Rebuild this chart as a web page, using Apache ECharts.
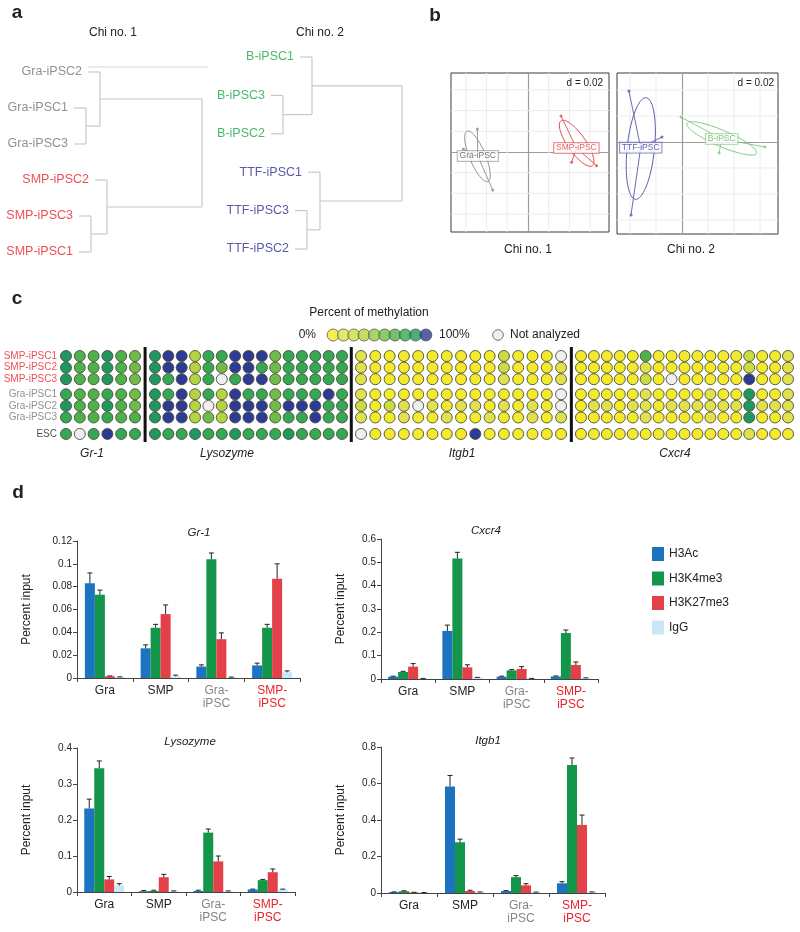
<!DOCTYPE html>
<html><head><meta charset="utf-8">
<script src="https://cdn.jsdelivr.net/npm/echarts@6/dist/echarts.min.js"></script>
<style>html,body{margin:0;padding:0;background:#fff}#c{width:800px;height:932px}</style>
</head><body><div id="c"></div>
<script>
const FONT = '"Liberation Sans", Arial, Helvetica, sans-serif';

// ---------- panel a: hierarchical clustering ----------
const chi1Leaves = ['Gra-iPSC2','Gra-iPSC1','Gra-iPSC3','SMP-iPSC2','SMP-iPSC3','SMP-iPSC1'];
const chi1Merge = [[-2,-3],[-1,1],[-5,-6],[-4,3],[2,4]];
const chi1Height = [0.23,0.30,0.255,0.335,0.81];
const chi2Leaves = ['B-iPSC1','B-iPSC3','B-iPSC2','TTF-iPSC1','TTF-iPSC3','TTF-iPSC2'];
const chi2Merge = [[-2,-3],[-1,1],[-5,-6],[-4,3],[2,4]];
const chi2Height = [0.215,0.36,0.335,0.40,0.81];
const leafHang = 0.06;

// ---------- panel b: between-class analysis ----------
const graPts = [[-0.0490,0.0222],[-0.0341,-0.0367],[-0.0625,0.0029]];
const smpPts = [[0.0319,0.0348],[0.0663,-0.0132],[0.0422,-0.0100]];
const ttfPts = [[-0.0408,0.0392],[-0.0392,-0.0561],[-0.0154,0.0038]];
const bPts   = [[-0.0008,0.0192],[0.0638,-0.0038],[0.0285,-0.0085]];
// [cx, cy, semi-major, semi-minor, angle deg]
const graEll = [-0.0488,-0.0042,0.0263,0.0077,112.6];
const smpEll = [0.0470,0.0084,0.0264,0.0087,124.9];
const ttfEll = [-0.0317,-0.0050,0.0393,0.0105,84];
const bEll   = [0.0305,0.0028,0.0291,0.0062,156.7];
const pcaRange1 = {x:[-0.0744,0.0783], y:[-0.0773,0.0763]};
const pcaRange2 = {x:[-0.0500,0.0738], y:[-0.0708,0.0531]};
const pcaD = 0.02;

// ---------- panel c: bisulfite methylation (level 0..9, -1 = not analyzed) ----------
const methRows = ['SMP-iPSC1','SMP-iPSC2','SMP-iPSC3','Gra-iPSC1','Gra-iPSC2','Gra-iPSC3','ESC'];
const methRowGroup = [0,0,0,1,1,1,2];
const methGenes = ['Gr-1','Lysozyme','Itgb1','Cxcr4'];
const methGr1 = [
 [8,6,6,8,6,5],
 [8,6,6,8,6,5],
 [8,6,6,8,6,5],
 [7,6,6,7,6,5],
 [8,6,6,8,6,5],
 [7,6,6,7,6,6],
 [7,-1,7,9,7,7]
];
const methLyso = [
 [8,9,9,3,7,7,9,9,9,5,7,7,7,7,7],
 [8,9,9,3,7,5,9,9,7,5,7,7,7,7,7],
 [8,7,9,3,7,-1,7,9,9,5,7,7,7,7,7],
 [8,7,9,3,7,3,9,7,7,5,7,7,7,9,7],
 [8,9,9,3,-1,3,9,9,9,5,9,9,9,7,7],
 [8,9,9,3,5,3,9,9,9,5,7,7,9,7,7],
 [8,7,7,8,7,7,8,7,7,7,8,7,7,7,7]
];
const methItgb1 = [
 [1,0,0,0,0,0,0,0,0,0,2,0,0,0,-1],
 [1,0,0,0,0,0,0,0,0,0,2,0,0,0,1],
 [1,0,0,0,0,0,0,0,0,0,1,0,0,0,1],
 [1,0,0,0,0,0,0,0,0,0,0,0,0,0,-1],
 [2,0,2,1,-1,1,0,1,1,0,1,0,1,0,-1],
 [1,0,0,1,0,0,1,0,0,1,0,0,1,0,1],
 [-1,0,0,0,0,0,0,0,9,0,0,0,0,0,0]
];
const methCxcr4 = [
 [0,0,0,0,0,6,0,0,0,0,0,0,0,2,0,0,1],
 [0,0,0,0,0,1,0,0,0,0,0,0,0,2,0,0,1],
 [0,0,0,0,0,2,0,-1,0,0,0,0,0,9,0,0,1],
 [0,0,0,0,0,1,0,0,0,0,1,0,0,8,0,0,1],
 [0,1,1,0,1,1,0,1,1,1,1,1,1,8,1,1,1],
 [0,0,0,0,0,1,0,0,0,0,1,0,0,8,0,0,1],
 [0,0,0,0,0,0,0,0,0,0,0,0,0,1,0,0,0]
];
const methLevels = [0,1,2,3,4,5,6,7,8,9];
const methPalette = ['#f3ea2b','#e0e14d','#cbdc40','#b4d441','#94c945','#6fbd48','#4eb24b','#34a852','#1f985f','#2c3b94'];

// ---------- panel d: ChIP ----------
const chipCats = ['Gra','SMP','Gra-\niPSC','SMP-\niPSC'];
const chipMarks = ['H3Ac','H3K4me3','H3K27me3','IgG'];
const gr1Vals = [[0.083,0.026,0.010,0.011],[0.073,0.044,0.104,0.044],[0.0015,0.056,0.034,0.087],[0.0008,0.0015,0.0006,0.005]];
const gr1Errs = [[0.009,0.003,0.0015,0.002],[0.004,0.003,0.0055,0.003],[0.0003,0.008,0.0055,0.013],[0.0002,0.001,0.0002,0.0012]];
const cxcr4Vals = [[0.010,0.206,0.010,0.011],[0.030,0.516,0.037,0.197],[0.053,0.050,0.043,0.060],[0.002,0.006,0.002,0.004]];
const cxcr4Errs = [[0.002,0.025,0.002,0.002],[0.003,0.027,0.003,0.013],[0.013,0.011,0.010,0.013],[0.0005,0.001,0.0005,0.001]];
const lysoVals = [[0.232,0.002,0.003,0.007],[0.344,0.003,0.165,0.033],[0.035,0.041,0.085,0.055],[0.018,0.002,0.002,0.007]];
const lysoErrs = [[0.026,0.002,0.002,0.001],[0.020,0.002,0.010,0.002],[0.008,0.008,0.015,0.009],[0.005,0.001,0.001,0.001]];
const itgb1Vals = [[0.005,0.584,0.011,0.053],[0.010,0.278,0.087,0.702],[0.003,0.011,0.042,0.373],[0.002,0.005,0.004,0.005]];
const itgb1Errs = [[0.001,0.060,0.002,0.009],[0.002,0.017,0.008,0.038],[0.001,0.004,0.009,0.054],[0.0005,0.001,0.001,0.001]];
const chipYMax = [0.12,0.6,0.4,0.8];
const chipYInterval = [0.02,0.1,0.1,0.2];

// ================= styling / layout =================
const markColors = ['#1c74c0','#14964a','#e3404a','#c9e7f6'];
const catColors = ['#222','#222','#8a8480','#e8232b'];
const BAR_W = 10;
const grpColor = n => n.startsWith('Gra') ? '#7b736d' : n.startsWith('SMP') ? '#e8232b' : n.startsWith('B-') ? '#1ea64b' : n.startsWith('TTF') ? '#2e3192' : '#222';

const grids = [], xAxes = [], yAxes = [], series = [], graphics = [];
function addGrid(g, xa, ya){ grids.push(Object.assign({outerBoundsMode:'none', containLabel:false}, g)); xAxes.push(Object.assign({gridIndex:grids.length-1}, xa)); yAxes.push(Object.assign({gridIndex:grids.length-1}, ya)); return grids.length-1; }
function txt(x,y,text,o={}){
  const al = o.align||'center', va = o.va||'middle';
  return {type:'text', x, y, silent:true, z:50, rotation:o.rotation||0,
    style:{text, fill:o.fill||'#222', font:o.font||('12px '+FONT), align:al, textAlign:al, verticalAlign:va, textVerticalAlign:va}};
}
const hidden = {show:false};

// ---------- panel a ----------
function dendro(leaves, merge, height){
  const nodes=[], segs=[], leafPts=[];
  merge.forEach((m,i)=>{
    const h=height[i];
    const ys=m.map(ref=>{
      if(ref<0){const li=-ref-1; const x0=h-leafHang; segs.push([x0,li,h,li]); leafPts.push([x0,li,leaves[li]]); return li;}
      const n=nodes[ref-1]; segs.push([n.h,n.y,h,n.y]); return n.y;
    });
    segs.push([h,ys[0],h,ys[1]]);
    nodes.push({h, y:(ys[0]+ys[1])/2});
  });
  return {segs, leafPts};
}
const segRender = (params, api) => {
  const p1=api.coord([api.value(0),api.value(1)]), p2=api.coord([api.value(2),api.value(3)]);
  return {type:'line', shape:{x1:p1[0],y1:p1[1],x2:p2[0],y2:p2[1]}, style:{stroke:'#c8c8c8', lineWidth:1.2}};
};
[[chi1Leaves,chi1Merge,chi1Height,{left:40,top:72,width:200,height:180}],
 [chi2Leaves,chi2Merge,chi2Height,{left:240,top:57,width:200,height:192}]].forEach(([lv,mg,ht,g])=>{
  const gi = addGrid(g, {type:'value',min:0,max:1,show:false}, {type:'value',min:0,max:lv.length-1,inverse:true,show:false});
  const d = dendro(lv,mg,ht);
  series.push({type:'custom', xAxisIndex:gi, yAxisIndex:gi, data:d.segs, encode:{x:[0,2],y:[1,3]}, renderItem:segRender, silent:true});
  series.push({type:'scatter', xAxisIndex:gi, yAxisIndex:gi, symbolSize:0, silent:true,
    data:d.leafPts.map(p=>({value:[p[0],p[1]], name:p[2], label:{color:grpColor(p[2])}})),
    label:{show:true, position:'left', distance:6, formatter:'{b}', fontSize:12.5, fontFamily:FONT}});
});
graphics.push({type:'line', silent:true, shape:{x1:88,y1:67,x2:208,y2:67}, style:{stroke:'#d6d6d6', lineWidth:1}});
graphics.push(txt(113,33,'Chi no. 1'), txt(320,33,'Chi no. 2'));

// ---------- panel b ----------
function ellRender(params, api){
  const cx=api.value(0), cy=api.value(1), a=api.value(2), b=api.value(3), th=api.value(4)*Math.PI/180;
  const pts=[];
  for(let k=0;k<=90;k++){const t=k/90*2*Math.PI;
    pts.push(api.coord([cx+a*Math.cos(t)*Math.cos(th)-b*Math.sin(t)*Math.sin(th), cy+a*Math.cos(t)*Math.sin(th)+b*Math.sin(t)*Math.cos(th)]));}
  return {type:'polyline', shape:{points:pts}, style:{stroke:api.visual('color'), lineWidth:1, fill:null}};
}
function gridLineRender(params, api){
  const cs=params.coordSys, v=api.value(0);
  if(api.value(1)===0){const p=api.coord([v,0]); return {type:'line',shape:{x1:p[0],y1:cs.y,x2:p[0],y2:cs.y+cs.height},style:{stroke:'#ececec',lineWidth:1}};}
  const p=api.coord([0,v]); return {type:'line',shape:{x1:cs.x,y1:p[1],x2:cs.x+cs.width,y2:p[1]},style:{stroke:'#ececec',lineWidth:1}};
}
const zeroAxis = {show:true, onZero:true, lineStyle:{color:'#9c9c9c', width:1.2}};
function pcaPanel(g, range, groups){
  const gi = addGrid(Object.assign({show:true, borderColor:'#3a3a3a', borderWidth:1}, g),
    {type:'value', min:range.x[0], max:range.x[1], axisLine:zeroAxis, axisTick:hidden, axisLabel:hidden, splitLine:hidden},
    {type:'value', min:range.y[0], max:range.y[1], axisLine:zeroAxis, axisTick:hidden, axisLabel:hidden, splitLine:hidden});
  const gl=[];
  for(let v=Math.ceil(range.x[0]/pcaD)*pcaD; v<range.x[1]; v+=pcaD) if(Math.abs(v)>1e-9) gl.push([v,0]);
  for(let v=Math.ceil(range.y[0]/pcaD)*pcaD; v<range.y[1]; v+=pcaD) if(Math.abs(v)>1e-9) gl.push([v,1]);
  series.push({type:'custom', xAxisIndex:gi, yAxisIndex:gi, data:gl, renderItem:gridLineRender, silent:true, z:1});
  groups.forEach(([name, pts, ell, col, tcol])=>{
    const cx=pts.reduce((s,p)=>s+p[0],0)/pts.length, cy=pts.reduce((s,p)=>s+p[1],0)/pts.length;
    series.push({type:'custom', xAxisIndex:gi, yAxisIndex:gi, data:[ell], renderItem:ellRender, itemStyle:{color:col}, silent:true, z:3});
    series.push({type:'custom', xAxisIndex:gi, yAxisIndex:gi, data:pts.map(p=>[p[0],p[1],cx,cy]), silent:true, z:3,
      renderItem:(params,api)=>{const a=api.coord([api.value(0),api.value(1)]), b=api.coord([api.value(2),api.value(3)]);
        return {type:'line',shape:{x1:a[0],y1:a[1],x2:b[0],y2:b[1]},style:{stroke:col,lineWidth:0.9}};}});
    series.push({type:'scatter', xAxisIndex:gi, yAxisIndex:gi, data:pts, symbolSize:3, itemStyle:{color:col}, silent:true, z:4});
    series.push({type:'scatter', xAxisIndex:gi, yAxisIndex:gi, data:[[cx,cy]], symbolSize:0, silent:true, z:6,
      label:{show:true, position:'inside', formatter:name, fontSize:8.5, fontFamily:FONT, color:tcol, backgroundColor:'#fff', borderColor:col, borderWidth:0.8, padding:[1,2,0,2]}});
  });
  return gi;
}
pcaPanel({left:451,top:73,width:158,height:159}, pcaRange1, [['Gra-iPSC',graPts,graEll,'#8e8e8e','#555'],['SMP-iPSC',smpPts,smpEll,'#e0474c','#e0393e']]);
pcaPanel({left:617,top:73,width:161,height:161}, pcaRange2, [['TTF-iPSC',ttfPts,ttfEll,'#5a5aac','#3a3a98'],['B-iPSC',bPts,bEll,'#80c882','#5cb860']]);
graphics.push(txt(603,83,'d = 0.02',{align:'right',font:'10px '+FONT}), txt(774,83,'d = 0.02',{align:'right',font:'10px '+FONT}));
graphics.push(txt(528,250,'Chi no. 1'), txt(691,250,'Chi no. 2'));

// ---------- panel c ----------
const rowGroupGap = [0,0.3,0.72];
const rowPos = methRows.map((r,i)=>i+rowGroupGap[methRowGroup[i]]);
const methBlocks = [methGr1, methLyso, methItgb1, methCxcr4];
const blockGrid = [{left:59.1,width:82.8},{left:148.3,width:200.4},{left:353.9,width:214.3},{left:574.5,width:220}];
const ROW_PX = 11.6, ROW_TOP = 356;
const NA_COLOR = '#efefef';
const dotColor = p => p.value[2] < 0 ? NA_COLOR : methPalette[p.value[2]];
methBlocks.forEach((blk,b)=>{
  const ymin=-0.5, ymax=rowPos[rowPos.length-1]+0.5;
  const gi = addGrid({left:blockGrid[b].left, width:blockGrid[b].width, top:ROW_TOP+ymin*ROW_PX, height:(ymax-ymin)*ROW_PX},
    {type:'category', data:blk[0].map((_,i)=>i+1), show:false},
    {type:'value', min:ymin, max:ymax, inverse:true, show:false});
  const data=[];
  blk.forEach((row,r)=>row.forEach((lv,c)=>data.push([c,rowPos[r],lv])));
  series.push({type:'scatter', xAxisIndex:gi, yAxisIndex:gi, data, symbolSize:11, silent:true,
    itemStyle:{color:dotColor, borderColor:'#4d4d3c', borderWidth:0.9, opacity:1}});
  if(b===0){
    series.push({type:'scatter', xAxisIndex:gi, yAxisIndex:gi, symbolSize:0, silent:true,
      data:methRows.map((r,i)=>({value:[0,rowPos[i]], name:r, label:{color:grpColor(r)}})),
      label:{show:true, position:'left', distance:9, formatter:'{b}', fontSize:10, fontFamily:FONT}});
  }
});
for(let b=1;b<blockGrid.length;b++){
  const x=(blockGrid[b-1].left+blockGrid[b-1].width+blockGrid[b].left)/2;
  graphics.push({type:'line', silent:true, shape:{x1:x,y1:347,x2:x,y2:442}, style:{stroke:'#111', lineWidth:3}});
}
[92,227,462,675].forEach((x,i)=>graphics.push(txt(x,454,methGenes[i],{font:'italic 12px '+FONT})));
// colour key
const keyGi = addGrid({left:328,width:103,top:329,height:12},
  {type:'category', data:methLevels, show:false}, {type:'value', min:0, max:1, show:false});
series.push({type:'scatter', xAxisIndex:keyGi, yAxisIndex:keyGi, data:methLevels.map(l=>[l,0.5,l]), symbolSize:12, silent:true,
  itemStyle:{color:dotColor, borderColor:'#4d4d3c', borderWidth:0.9}});
graphics.push(txt(369,313,'Percent of methylation'), txt(316,335,'0%',{align:'right'}), txt(439,335,'100%',{align:'left'}),
  {type:'circle', silent:true, shape:{cx:498,cy:335,r:5.3}, style:{fill:NA_COLOR, stroke:'#666', lineWidth:0.9}},
  txt(510,335,'Not analyzed',{align:'left'}));

// ---------- panel d ----------
function errRender(k){ return (params, api)=>{
  const c=api.value(0), v=api.value(1), e=api.value(2);
  const b=api.coord([c,v]), t=api.coord([c,v+e]); const x=b[0]+(k-1.5)*BAR_W;
  return {type:'group', children:[
    {type:'line', shape:{x1:x,y1:b[1],x2:x,y2:t[1]}, style:{stroke:'#222',lineWidth:1}},
    {type:'line', shape:{x1:x-2.5,y1:t[1],x2:x+2.5,y2:t[1]}, style:{stroke:'#222',lineWidth:1}}]};
};}
const chipSets = [
  ['Gr-1', gr1Vals, gr1Errs, {left:77,top:541,width:223,height:137}, 44, [199,533]],
  ['Cxcr4', cxcr4Vals, cxcr4Errs, {left:381,top:539,width:217,height:140}, 34, [486,531]],
  ['Lysozyme', lysoVals, lysoErrs, {left:77,top:748,width:218,height:144}, 44, [190,742]],
  ['Itgb1', itgb1Vals, itgb1Errs, {left:381,top:747,width:224,height:146}, 34, [488,741]]
];
chipSets.forEach(([title, vals, errs, g, nameGap, tpos], ci)=>{
  const gi = addGrid(g,
    {type:'category', data:chipCats, axisLine:{show:true, lineStyle:{color:'#444',width:1}},
     axisTick:{show:true, length:4, interval:0, lineStyle:{color:'#444'}},
     axisLabel:{interval:0, fontSize:12, lineHeight:13, margin:6, fontFamily:FONT, color:(v,i)=>catColors[i]}, splitLine:hidden},
    {type:'value', min:0, max:chipYMax[ci], interval:chipYInterval[ci],
     axisLine:{show:true, lineStyle:{color:'#444',width:1}}, axisTick:{show:true, length:4, lineStyle:{color:'#444'}},
     axisLabel:{fontSize:10, color:'#222', margin:5, fontFamily:FONT}, splitLine:hidden,
     name:'Percent input', nameLocation:'middle', nameGap, nameRotate:90, nameTextStyle:{fontSize:12, color:'#222', fontFamily:FONT}});
  chipMarks.forEach((m,k)=>{
    series.push({type:'bar', name:m, xAxisIndex:gi, yAxisIndex:gi, data:vals[k], barWidth:BAR_W, barGap:'0%', itemStyle:{color:markColors[k]}, silent:true, z:2});
  });
  chipMarks.forEach((m,k)=>{
    series.push({type:'custom', xAxisIndex:gi, yAxisIndex:gi, data:vals[k].map((v,i)=>[i,v,errs[k][i]]), renderItem:errRender(k), silent:true, z:3});
  });
  graphics.push(txt(tpos[0],tpos[1],title,{font:'italic 11.5px '+FONT}));
});

// panel letters
graphics.push(txt(17,13,'a',{font:'bold 19px '+FONT}), txt(435,16,'b',{font:'bold 19px '+FONT}),
  txt(17,299,'c',{font:'bold 19px '+FONT}), txt(18,493,'d',{font:'bold 19px '+FONT}));

const chart = echarts.init(document.getElementById('c'), null, {renderer:'canvas', width:800, height:932});
chart.setOption({
  animation:false,
  backgroundColor:'#fff',
  textStyle:{fontFamily:FONT},
  grid:grids, xAxis:xAxes, yAxis:yAxes, series,
  legend:{data:chipMarks, orient:'vertical', left:647, top:542, itemWidth:12, itemHeight:14, itemGap:10.5, icon:'rect',
    textStyle:{fontSize:12, color:'#222', fontFamily:FONT}, selectedMode:false},
  graphic:{elements:graphics}
});
</script></body></html>
